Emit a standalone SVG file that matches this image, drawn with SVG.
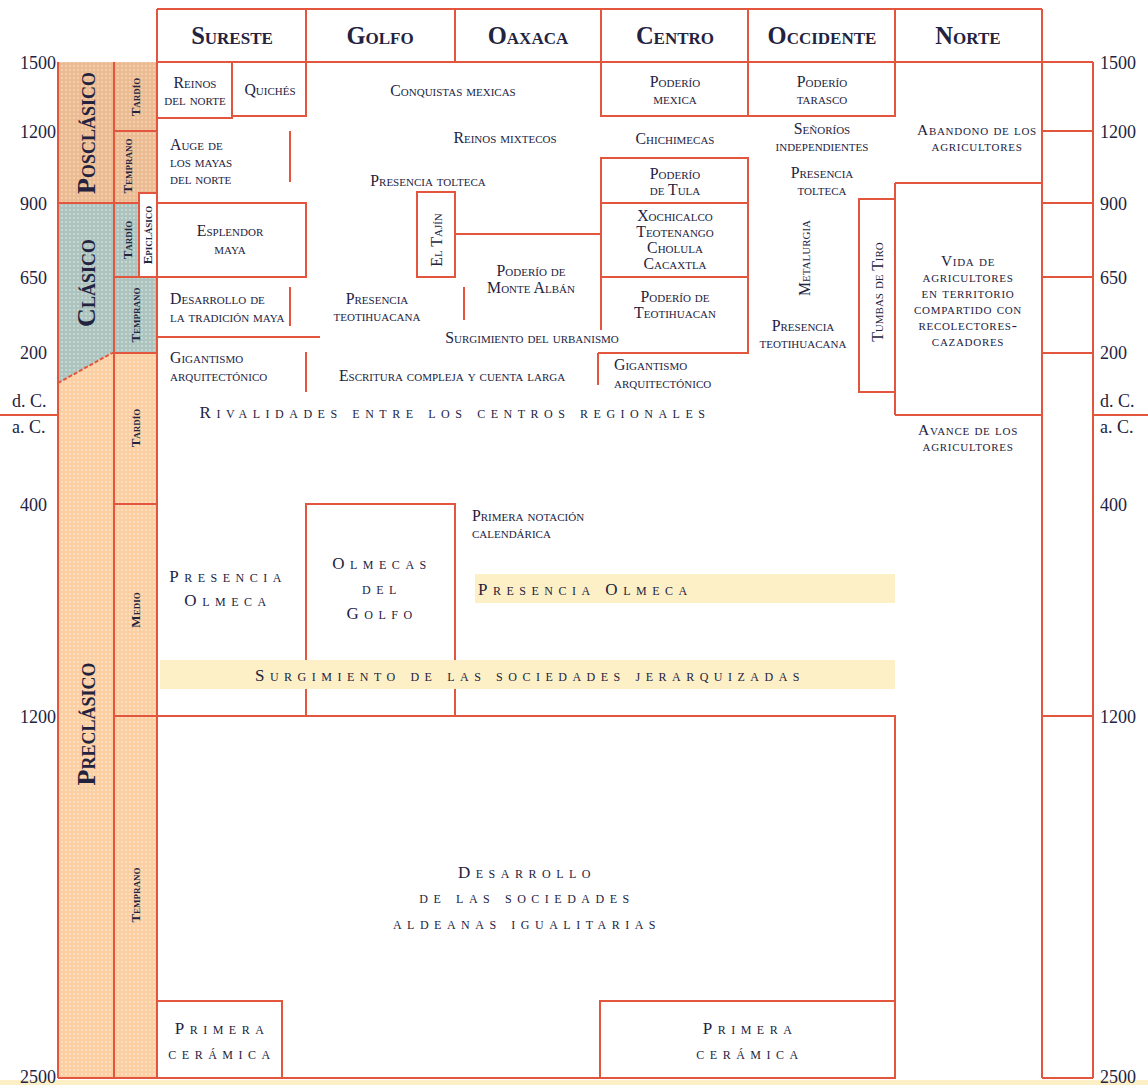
<svg xmlns="http://www.w3.org/2000/svg" width="1148" height="1085" viewBox="0 0 1148 1085">
<style>
text{font-family:"Liberation Serif","Times New Roman",serif;fill:#23233f;font-variant:small-caps}
.ln{stroke:#e3553d;stroke-width:2;fill:none}
.bx{stroke:#e3553d;stroke-width:2;fill:#fff}
.hd{font-size:24.5px;font-weight:bold;text-anchor:middle}
.ax{font-size:18px;font-variant:normal}
.s{font-size:15.8px}
.n{font-size:15.5px;letter-spacing:0.7px}
.c{text-anchor:middle}
.sub{font-size:13px;font-weight:bold;text-anchor:middle}
.per{font-size:26px;font-weight:bold;text-anchor:middle}
.sp{font-size:17px;letter-spacing:5.5px}
.band{fill:#fdf0c6}
</style>
<defs>
<pattern id="pPos" width="4" height="4" patternUnits="userSpaceOnUse"><rect width="4" height="4" fill="#ebbb92"/><circle cx="2" cy="2" r="0.9" fill="#f6d8bc"/></pattern>
<pattern id="pCla" width="4" height="4" patternUnits="userSpaceOnUse"><rect width="4" height="4" fill="#adc4be"/><circle cx="2" cy="2" r="0.9" fill="#d3e0dc"/></pattern>
<pattern id="pPre" width="4" height="4" patternUnits="userSpaceOnUse"><rect width="4" height="4" fill="#fbcfa2"/><circle cx="2" cy="2" r="0.9" fill="#fde6cf"/></pattern>
</defs>
<rect width="1148" height="1085" fill="#fff"/>
<rect x="0" y="1080" width="1148" height="5" fill="#fdf0c6"/>

<g id="periods">
<rect x="58" y="62" width="99" height="1016" fill="url(#pPre)"/>
<rect x="58" y="62" width="99" height="141" fill="url(#pPos)"/>
<polygon points="58,203 114,203 114,353 112,353 58,383" fill="url(#pCla)"/>
<rect x="114" y="203" width="25" height="150" fill="url(#pCla)"/>
<rect x="114" y="277" width="43" height="76" fill="url(#pCla)"/>
<rect x="114" y="62" width="43" height="141" fill="url(#pPos)"/>
<rect x="139" y="193" width="18" height="84" class="bx"/>
<path class="ln" d="M58,62V1078M114,62V1078M157,9V1078M58,203H114M114,131H157M114,203H139M114,277H157M112,353H157M114,504H157M58,1078H895"/>
<path class="ln" d="M58,383L112,353" stroke-dasharray="4,2"/>
<text class="per" transform="translate(95,133) rotate(-90)">Posclásico</text>
<text class="per" transform="translate(95,283) rotate(-90)">Clásico</text>
<text class="per" transform="translate(95,724) rotate(-90)">Preclásico</text>
<text class="sub" transform="translate(140,97) rotate(-90)">Tardío</text>
<text class="sub" transform="translate(132,166) rotate(-90)">Temprano</text>
<text class="sub" transform="translate(132,240) rotate(-90)">Tardío</text>
<text class="sub" transform="translate(152,235) rotate(-90)">Epiclásico</text>
<text class="sub" transform="translate(140,315) rotate(-90)">Temprano</text>
<text class="sub" transform="translate(140,428) rotate(-90)">Tardío</text>
<text class="sub" transform="translate(140,610) rotate(-90)">Medio</text>
<text class="sub" transform="translate(140,895) rotate(-90)">Temprano</text>
</g>

<g id="axis-left">
<text class="ax" x="20" y="69">1500</text>
<text class="ax" x="20" y="138">1200</text>
<text class="ax" x="20" y="210">900</text>
<text class="ax" x="20" y="284">650</text>
<text class="ax" x="20" y="359">200</text>
<text class="ax" x="12" y="407">d. C.</text>
<text class="ax" x="12" y="433">a. C.</text>
<path class="ln" d="M0,415H58"/>
<text class="ax" x="20" y="511">400</text>
<text class="ax" x="20" y="723">1200</text>
<text class="ax" x="20" y="1083">2500</text>
</g>

<g id="axis-right">
<path class="ln" d="M1042,9V1078M1093,62V1078M1042,131H1093M1042,203H1093M1042,277H1093M1042,353H1093M1093,415H1148M1042,716H1093M1042,1078H1093"/>
<text class="ax" x="1100" y="69">1500</text>
<text class="ax" x="1100" y="138">1200</text>
<text class="ax" x="1100" y="210">900</text>
<text class="ax" x="1100" y="284">650</text>
<text class="ax" x="1100" y="359">200</text>
<text class="ax" x="1100" y="407">d. C.</text>
<text class="ax" x="1100" y="433">a. C.</text>
<text class="ax" x="1100" y="511">400</text>
<text class="ax" x="1100" y="723">1200</text>
<text class="ax" x="1100" y="1083">2500</text>
</g>

<g id="header">
<path class="ln" d="M157,9H1042M157,62H1093M306,9V62M455,9V62M601,9V62M748,9V62M895,9V62"/>
<text class="hd" x="232" y="44">Sureste</text>
<text class="hd" x="380" y="44">Golfo</text>
<text class="hd" x="528" y="44">Oaxaca</text>
<text class="hd" x="675" y="44">Centro</text>
<text class="hd" x="822" y="44">Occidente</text>
<text class="hd" x="968" y="44">Norte</text>
</g>

<g id="connectors">
<path class="ln" d="M290,131V182M290,287V326M157,337H320M306,352V392M464,287V320M455,234H601M601,158V330M598,353V385M895,183V415M895,62V116"/>
</g>

<g id="sureste">
<g id="reinos-norte"><rect class="bx" x="157" y="62" width="75" height="56"/><text class="s c" x="195" y="88">Reinos</text><text class="s c" x="195" y="105">del norte</text></g>
<g id="quiches"><rect class="bx" x="232" y="62" width="74" height="54"/><text class="s c" x="270" y="95">Quichés</text></g>
<g id="auge"><text class="s" x="170" y="150">Auge de</text><text class="s" x="170" y="167">los mayas</text><text class="s" x="170" y="184">del norte</text></g>
<g id="esplendor"><rect class="bx" x="157" y="203" width="149" height="74"/><text class="s c" x="230" y="236">Esplendor</text><text class="s c" x="230" y="254">maya</text></g>
<g id="desarrollo-maya"><text class="s" x="170" y="304">Desarrollo de</text><text class="s" x="170" y="322">la tradición maya</text></g>
<g id="gigantismo1"><text class="s" x="170" y="363">Gigantismo</text><text class="s" x="170" y="381">arquitectónico</text></g>
</g>

<g id="golfo-oaxaca">
<text class="s c" x="453" y="96">Conquistas mexicas</text>
<text class="s c" x="505" y="143">Reinos mixtecos</text>
<text class="s c" x="428" y="186">Presencia tolteca</text>
<g id="tajin"><rect class="bx" x="417" y="192" width="38" height="85"/><text class="s c" transform="translate(442,240) rotate(-90)">El Tajín</text></g>
<g id="monte-alban"><text class="s c" x="531" y="276">Poderío de</text><text class="s c" x="531" y="293">Monte Albán</text></g>
<g id="pres-teo1"><text class="s c" x="377" y="304">Presencia</text><text class="s c" x="377" y="321">teotihuacana</text></g>
<text class="s c" x="532" y="343">Surgimiento del urbanismo</text>
<text class="s c" x="452" y="381">Escritura compleja y cuenta larga</text>
</g>

<g id="centro">
<g id="mexica"><rect class="bx" x="601" y="62" width="147" height="54"/><text class="s c" x="675" y="87">Poderío</text><text class="s c" x="675" y="104">mexica</text></g>
<text class="s c" x="675" y="144">Chichimecas</text>
<g id="tula"><rect class="bx" x="601" y="158" width="147" height="45"/><text class="s c" x="675" y="179">Poderío</text><text class="s c" x="675" y="195">de Tula</text></g>
<g id="xochicalco"><rect class="bx" x="601" y="203" width="147" height="74"/><text class="s c" x="675" y="221">Xochicalco</text><text class="s c" x="675" y="237">Teotenango</text><text class="s c" x="675" y="253">Cholula</text><text class="s c" x="675" y="269">Cacaxtla</text></g>
<g id="teotihuacan"><path class="ln" d="M601,277H748V353H598"/><text class="s c" x="675" y="302">Poderío de</text><text class="s c" x="675" y="318">Teotihuacan</text></g>
<g id="gigantismo2"><text class="s" x="614" y="370">Gigantismo</text><text class="s" x="614" y="388">arquitectónico</text></g>
</g>

<g id="occidente">
<g id="tarasco"><rect class="bx" x="748" y="62" width="147" height="54"/><text class="s c" x="822" y="87">Poderío</text><text class="s c" x="822" y="104">tarasco</text></g>
<text class="s c" x="822" y="134">Señoríos</text><text class="s c" x="822" y="151">independientes</text>
<text class="s c" x="822" y="178">Presencia</text><text class="s c" x="822" y="195">tolteca</text>
<text class="s c" transform="translate(810,258) rotate(-90)">Metalurgia</text>
<text class="s c" x="803" y="331">Presencia</text><text class="s c" x="803" y="348">teotihuacana</text>
<g id="tumbas"><rect class="bx" x="859" y="199" width="36" height="193"/><text class="s c" transform="translate(883,292) rotate(-90)">Tumbas de Tiro</text></g>
</g>

<g id="norte">
<text class="n c" x="977" y="135">Abandono de los</text><text class="n c" x="977" y="151">agricultores</text>
<g id="vida"><path class="ln" d="M895,183H1042M895,415H1042"/>
<text class="n c" x="968" y="266">Vida de</text><text class="n c" x="968" y="282">agricultores</text><text class="n c" x="968" y="298">en territorio</text><text class="n c" x="968" y="314">compartido con</text><text class="n c" x="968" y="330">recolectores-</text><text class="n c" x="968" y="346">cazadores</text></g>
<text class="n c" x="968" y="435">Avance de los</text><text class="n c" x="968" y="451">agricultores</text>
</g>

<g id="preclasico">
<text class="sp c" x="455" y="418">Rivalidades entre los centros regionales</text>
<g id="olmecas-golfo"><rect class="bx" x="306" y="504" width="149" height="212"/><text class="sp c" x="382" y="569">Olmecas</text><text class="sp c" x="382" y="594">del</text><text class="sp c" x="382" y="619">Golfo</text></g>
<text class="sp c" x="228" y="582">Presencia</text><text class="sp c" x="228" y="606">Olmeca</text>
<text class="s" x="472" y="521">Primera notación</text><text class="s" x="472" y="538">calendárica</text>
<rect class="band" x="475" y="574" width="420" height="29"/>
<text class="sp" x="478" y="595">Presencia Olmeca</text>
<rect class="band" x="160" y="660" width="735" height="29"/>
<text class="sp c" x="530" y="681">Surgimiento de las sociedades jerarquizadas</text>
<g id="aldeanas"><path class="ln" d="M114,716H895V1078"/>
<text class="sp c" x="527" y="878">Desarrollo</text><text class="sp c" x="527" y="903">de las sociedades</text><text class="sp c" x="527" y="929">aldeanas igualitarias</text></g>
<g id="ceramica1"><rect class="bx" x="157" y="1001" width="125" height="77"/><text class="sp c" x="222" y="1034">Primera</text><text class="sp c" x="222" y="1059">cerámica</text></g>
<g id="ceramica2"><rect class="bx" x="600" y="1001" width="295" height="77"/><text class="sp c" x="750" y="1034">Primera</text><text class="sp c" x="750" y="1059">cerámica</text></g>
</g>
</svg>
